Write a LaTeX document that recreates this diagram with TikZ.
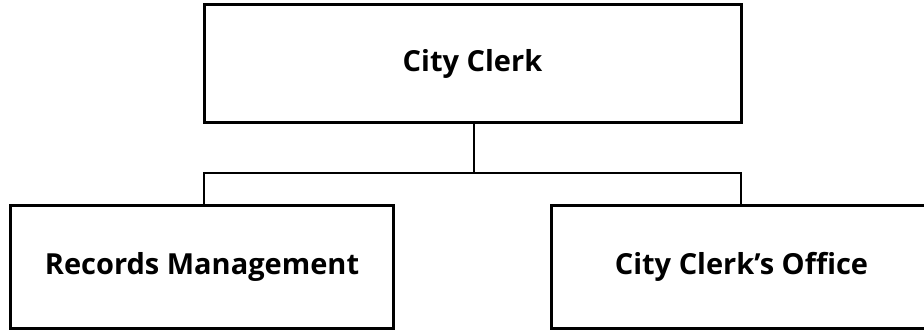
\documentclass[tikz,border=0pt]{standalone}
\usepackage{fontspec}
\setmainfont{Open Sans}
\tikzset{
  box/.style={draw=black, line width=3pt, inner sep=0pt, font=\bfseries\fontsize{29}{34}\selectfont},
  link/.style={draw=black, line width=2.5pt}
}
\begin{document}
\begin{tikzpicture}[x=1pt,y=-1pt]
\useasboundingbox (0,0) rectangle (924,331);
\node[box, minimum width=537pt, minimum height=118pt] (top) at (472.5,64) {City Clerk};
\node[box, minimum width=383pt, minimum height=122pt] (left) at (202,267) {Records Management};
\node[box, minimum width=381pt, minimum height=122pt] (right) at (741.5,267) {City Clerk’s Office};
\coordinate (mid) at (474,173);
\coordinate (jl) at (204,173);
\coordinate (jr) at (741,173);
\draw[link] (top.south -| mid) -- (mid);
\draw[link] (jl |- left.north) -- (jl) -- (jr) -- (jr |- right.north);
\end{tikzpicture}
\end{document}
